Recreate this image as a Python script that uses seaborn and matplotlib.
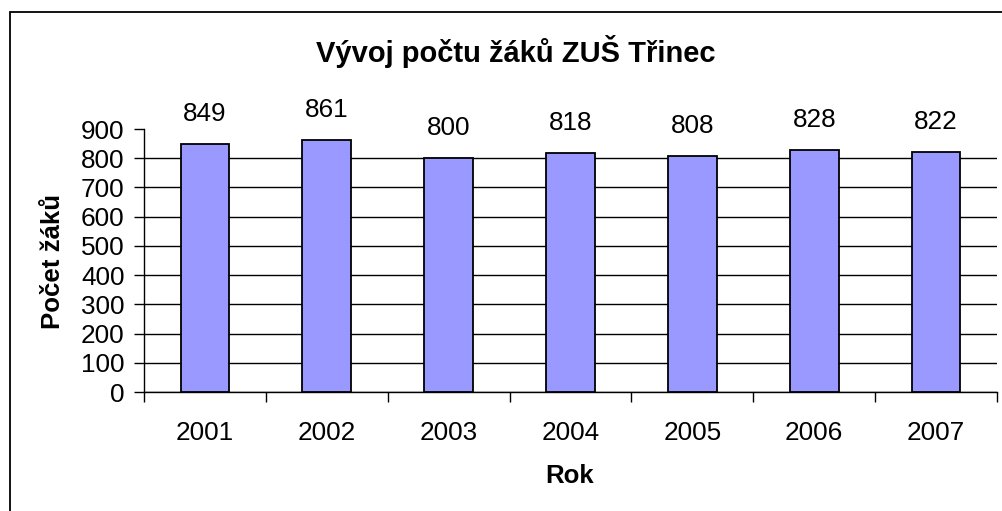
import matplotlib
matplotlib.use("Agg")
import matplotlib.pyplot as plt
import seaborn as sns
import pandas as pd
from matplotlib.patches import Rectangle

years = ["2001", "2002", "2003", "2004", "2005", "2006", "2007"]
pupils = [849, 861, 800, 818, 808, 828, 822]
title = "Vývoj počtu žáků ZUŠ Třinec"
ylabel = "Počet žáků"
xlabel = "Rok"

df = pd.DataFrame({"rok": years, "zaci": pupils})

sns.set_style("white")
plt.rcParams["font.family"] = ["Liberation Sans", "DejaVu Sans"]
plt.rcParams["text.color"] = "black"
plt.rcParams["xtick.color"] = "black"
plt.rcParams["ytick.color"] = "black"
plt.rcParams["axes.labelcolor"] = "black"

W, H = 1002, 511
fig = plt.figure(figsize=(W / 100, H / 100), dpi=100)
ax = fig.add_axes([144 / W, 1 - 392 / H, (997 - 144) / W, (392 - 129) / H])

sns.barplot(data=df, x="rok", y="zaci", color="#9999FF", saturation=1,
            width=0.4, edgecolor="black", linewidth=1.3, ax=ax, zorder=3)

ax.set_xlim(-0.5, len(years) - 0.5)
ax.set_ylim(0, 900)
ax.set_yticks(range(0, 901, 100))
ax.yaxis.grid(True, color="black", linewidth=1)
ax.get_ygridlines()[-1].set_visible(False)
ax.set_axisbelow(True)

for s in ["top", "right"]:
    ax.spines[s].set_visible(False)
for s in ["left", "bottom"]:
    ax.spines[s].set_color("black")
    ax.spines[s].set_linewidth(1)

fs = 18.8
ax.tick_params(axis="y", direction="out", length=7, width=1, color="black",
               pad=7, labelsize=fs, left=True, labelcolor="black")
ax.set_xticks(range(len(years)))
ax.set_xticklabels(years)
ax.tick_params(axis="x", which="major", length=0, pad=21, labelsize=fs,
               labelcolor="black")
ax.set_xticks([i - 0.5 for i in range(len(years) + 1)], minor=True)
ax.tick_params(axis="x", which="minor", direction="out", length=7, width=1,
               color="black", bottom=True)

ax.bar_label(ax.containers[0], padding=13, fontsize=fs, color="black")
ax.set_xlabel("")
ax.set_ylabel("")

fig.text(516 / W, 1 - 52 / H, title, ha="center", va="center",
         fontsize=21, fontweight="bold")
fig.text(53 / W, 1 - 261 / H, ylabel, ha="center", va="center",
         rotation=90, fontsize=18.6, fontweight="bold")
fig.text(570 / W, 1 - 476 / H, xlabel, ha="center", va="center",
         fontsize=18.6, fontweight="bold")

fig.patches.append(Rectangle((10 / W, -0.1), 1.2, 1 - 12 / H + 0.1,
                             transform=fig.transFigure, fill=False,
                             edgecolor="black", linewidth=1.3))

fig.savefig("out.png", dpi=100)
